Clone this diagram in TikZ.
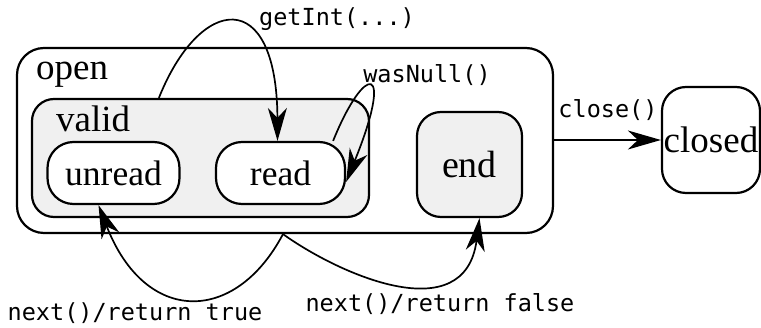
\documentclass[tikz,border=0pt]{standalone}
\usepackage{fontspec}
\setmainfont{Liberation Serif}
\newfontfamily\monofont{DejaVu Sans Mono}
\usetikzlibrary{arrows.meta}
\definecolor{boxgray}{HTML}{F0F0F0}
\begin{document}
\begin{tikzpicture}[x=1pt,y=-1pt,
  statebox/.style={draw=black, line width=2.2pt, rounded corners=#1, inner sep=0pt},
  statebox/.default=25pt,
  stxt/.style={font=\fontsize{35.5}{40}\selectfont},
  ctxt/.style={font=\fontsize{37}{42}\selectfont},
  lbl/.style={font=\monofont\fontsize{23.5}{27}\selectfont, inner sep=0pt},
  conn/.style={draw=black, line width=1.7pt, -{Stealth[length=33pt,width=19pt,inset=10pt]}}
]
\useasboundingbox (0,0) rectangle (761,328);
\fill[white] (0,0) rectangle (761,328);

% containers
\node[statebox=27pt, fill=white, minimum width=536pt, minimum height=185pt] (open) at (285,140.5) {};
\node[statebox=22pt, fill=boxgray, minimum width=337pt, minimum height=118pt] (valid) at (200.5,158) {};
\node[ctxt, anchor=base west, inner sep=0pt] (openlbl) at (36,80) {open};
\node[ctxt, anchor=base west, inner sep=0pt] (validlbl) at (56,132) {valid};

% states
\node[statebox=26pt, fill=white, minimum width=132pt, minimum height=62pt, stxt] (unread) at (113.5,173) {unread};
\node[statebox=26pt, fill=white, minimum width=129pt, minimum height=62pt, stxt] (read) at (280.5,173) {read};
\node[statebox=24pt, fill=boxgray, minimum width=105pt, minimum height=105pt, font=\fontsize{38}{42}\selectfont] (end) at (469.5,164.5) {end};
\node[statebox=24pt, fill=white, minimum width=98pt, minimum height=106pt, ctxt] (closed) at (711,140) {closed};

% connectors
\draw[conn] ([xshift=128pt]valid.north west) .. controls (200,-5) and (277,-15) .. ([xshift=-3pt]read.north);
\draw[conn] ([xshift=-13pt]read.north east) .. controls (365,62) and (395,62) .. ([yshift=-9pt]read.east);
\draw[conn] (open.east |- closed.west) -- (closed.west);
\draw[conn] ([xshift=-2pt]open.south) .. controls (235,325) and (145,325) .. ([xshift=-15pt]unread.south);
\draw[conn] ([xshift=-2pt]open.south) .. controls (340,275) and (465,330) .. ([xshift=10pt]end.south);

% labels
\node[lbl] (lgetint) at (337,19) {getInt(...)};
\node[lbl] (lwasnull) at (427,75) {wasNull()};
\node[lbl] (lclose) at (608,110) {close()};
\node[lbl] (ltrue) at (135,313) {next()/return true};
\node[lbl] (lfalse) at (440,304) {next()/return false};
\end{tikzpicture}
\end{document}
